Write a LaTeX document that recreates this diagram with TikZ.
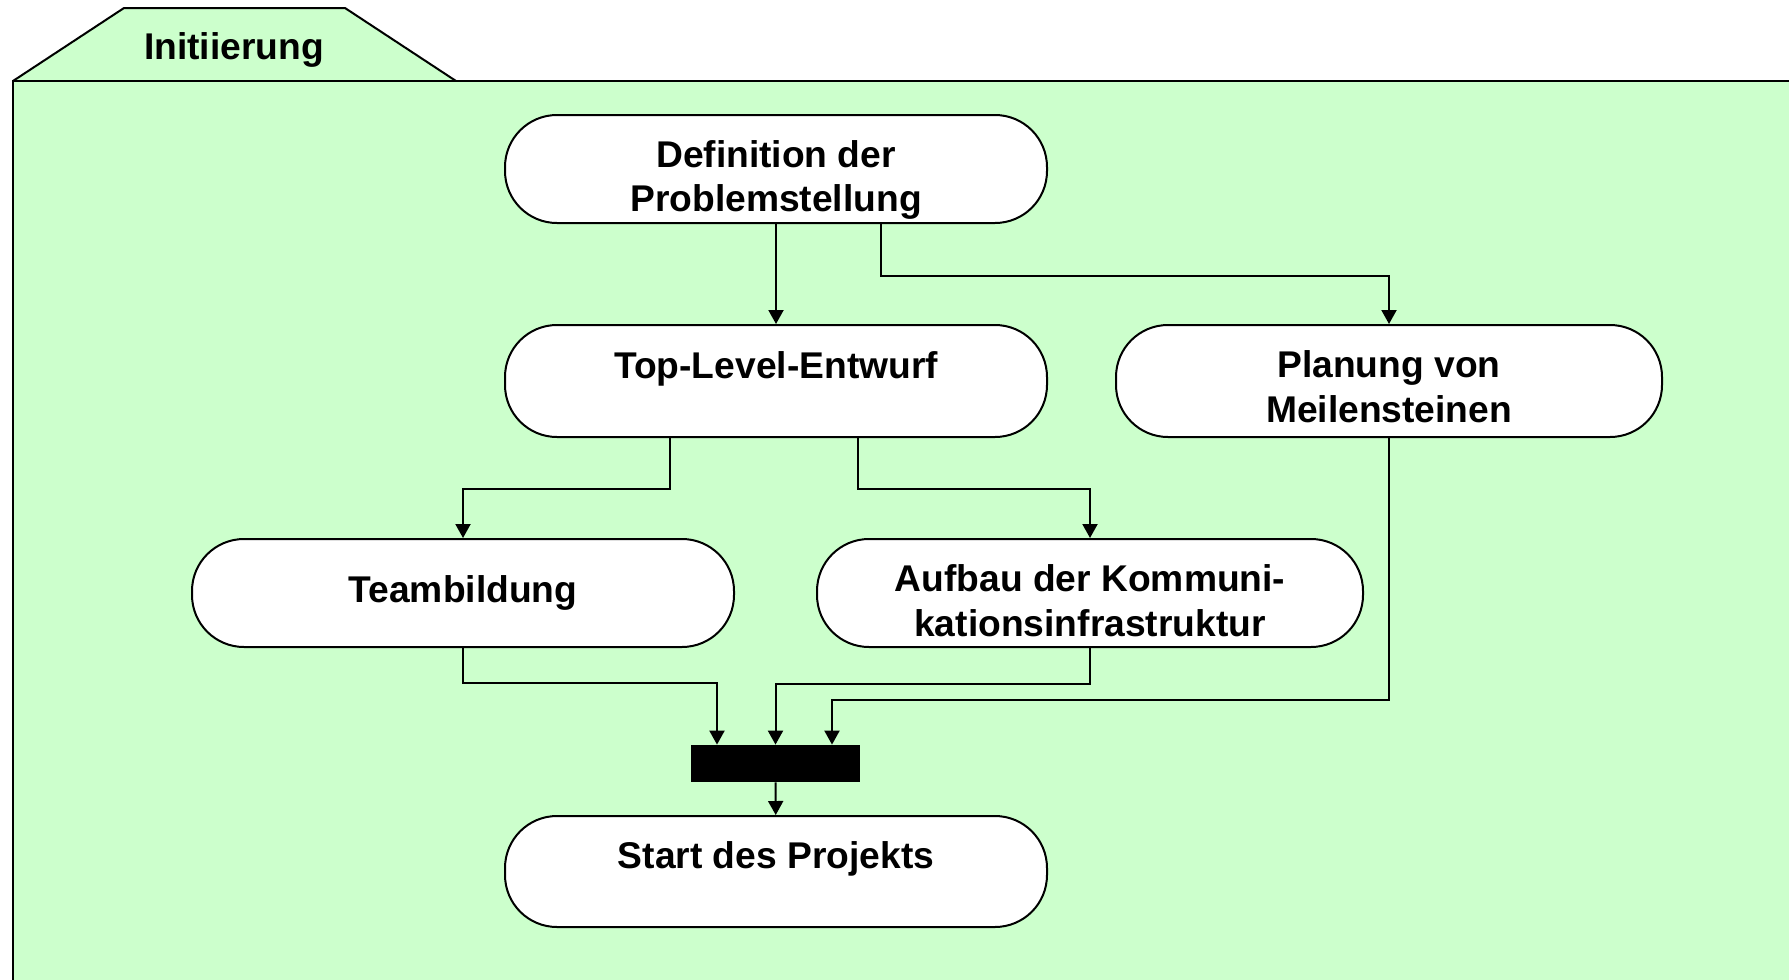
\documentclass[tikz,border=0pt]{standalone}
\usepackage{fontspec}
\setmainfont{Liberation Sans}
\usepackage{tikz}
\usetikzlibrary{positioning,arrows.meta}
\usepackage{xcolor}
\definecolor{initgreen}{RGB}{204,255,204}
\newcommand{\textlift}[1]{\rule{0pt}{#1}}
\tikzset{
  activity/.style={draw,line width=1pt,fill=white,rounded corners=26pt,
    minimum width=271pt,minimum height=54pt,align=center,inner xsep=2pt,inner ysep=1pt,
    font=\fontsize{18.6pt}{22.3pt}\selectfont\bfseries},
  flow/.style={line width=1pt,-{Triangle[length=7pt,width=7.5pt]}},
}

\begin{document}
\begin{tikzpicture}[x=0.5pt,y=-0.5pt]
\useasboundingbox (0,0) rectangle (1789,980);
% Rahmen mit Reiter
\fill[initgreen] (13,81) rectangle (1789,980);
\draw[line width=1pt,fill=initgreen] (13,81) -- (124,8) -- (345,8) -- (456,81);
\draw[line width=1.3pt] (13,980) -- (13,81) -- (1789,81);
\node[font=\fontsize{18.6pt}{22.3pt}\selectfont\bfseries] (phase) at (234,50) {Initiierung};
% Aktivitaeten
\node[activity] (defprob) at (776,169) {\textlift{24.5pt}Definition der\\Problemstellung};
\node[activity,minimum height=56pt] (toplevel) at (776,381) {\textlift{19.9pt}Top-Level-Entwurf\\\mbox{}};
\node[activity,minimum height=56pt,minimum width=273pt] (meilen) at (1389,381) {\textlift{19.3pt}Planung von\\Meilensteinen};
\node[activity] (team) at (463,593) {Teambildung};
\node[activity,minimum width=273pt] (komm) at (1090,593) {\textlift{21pt}Aufbau der Kommuni-\\kationsinfrastruktur};
\node[fill=black,minimum width=84.5pt,minimum height=18.5pt,inner sep=0pt] (sync) at (775.5,763.5) {};
\node[activity,minimum height=55.5pt] (start) at (776,871.5) {\textlift{18.9pt}Start des Projekts\\\mbox{}};
% Kontrollfluss
\draw[flow] (defprob) -- (toplevel);
\draw[flow] ([xshift=52.5pt]defprob.south) -- ++(0,52) -| (meilen.north);
\draw[flow] ([xshift=-53pt]toplevel.south) -- ++(0,51) -| (team.north);
\draw[flow] ([xshift=41pt]toplevel.south) -- ++(0,51) -| (komm.north);
\draw[flow] (team.south) -- ++(0,35) -| ([xshift=-29.25pt]sync.north);
\draw[flow] (komm.south) -- ++(0,36) -| (sync.north);
\draw[flow] (meilen.south) -- ++(0,262) -| ([xshift=28.25pt]sync.north);
\draw[flow] (sync) -- (start);
\end{tikzpicture}
\end{document}
